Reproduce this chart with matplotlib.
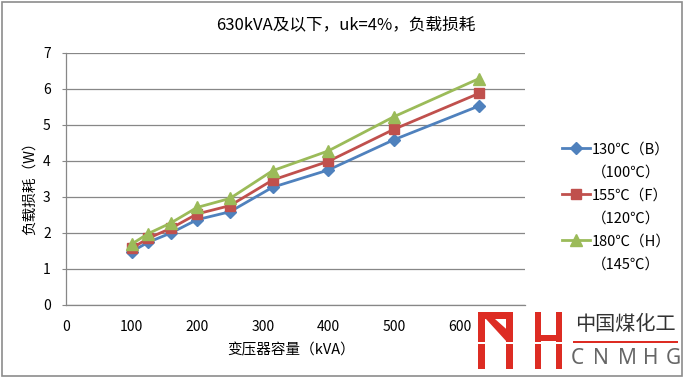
import matplotlib
matplotlib.use("Agg")
import matplotlib.pyplot as plt
from matplotlib.patches import Rectangle, Polygon
from matplotlib.lines import Line2D

plt.rcParams['font.family'] = ['Noto Sans CJK SC', 'DejaVu Sans']

# 数据
capacity = [100, 125, 160, 200, 250, 315, 400, 500, 630]
loss_b = [1.48, 1.74, 2.00, 2.37, 2.59, 3.27, 3.75, 4.59, 5.53]
loss_f = [1.57, 1.85, 2.13, 2.53, 2.76, 3.47, 3.99, 4.88, 5.88]
loss_h = [1.69, 1.98, 2.28, 2.71, 2.96, 3.73, 4.28, 5.23, 6.29]
labels = ['130℃（B）', '155℃（F）', '180℃（H）']
labels2 = ['（100℃）', '（120℃）', '（145℃）']
title = '630kVA及以下，uk=4%，负载损耗'
xlabel = '变压器容量（kVA）'
ylabel = '负载损耗（W）'

W, H = 683, 377
fig = plt.figure(figsize=(W / 100, H / 100), dpi=100)
ax = fig.add_axes([66 / W, 1 - 305 / H, (525 - 66) / W, (305 - 53) / H])

grid_c = '#878787'
series = [
    (loss_b, '#4F81BD', 'D', 6),
    (loss_f, '#C0504D', 's', 7),
    (loss_h, '#9BBB59', '^', 8),
]
handles = []
for (vals, c, m, ms) in series:
    ln, = ax.plot(capacity, vals, color=c, lw=2, marker=m, ms=ms,
                  mec=c, mfc=c, zorder=3)
    handles.append(ln)

ax.set_xlim(0, 700)
ax.set_ylim(0, 7)
ax.set_xticks(range(0, 700, 100))
ax.set_yticks(range(0, 8))
ax.yaxis.grid(True, color=grid_c, lw=0.9)
ax.set_axisbelow(True)
for s in ['top', 'right']:
    ax.spines[s].set_visible(False)
for s in ['left', 'bottom']:
    ax.spines[s].set_color(grid_c)
    ax.spines[s].set_linewidth(0.9)
ax.tick_params(axis='x', length=0, pad=11, labelsize=10)
ax.tick_params(axis='y', length=3, color=grid_c, pad=8, labelsize=10)

fig.text(346 / W, 1 - 25 / H, title, ha='center', va='center', fontsize=12)
fig.text(291 / W, 1 - 350 / H, xlabel, ha='center', va='center', fontsize=10.5)
fig.text(30 / W, 1 - 185 / H, ylabel, ha='center', va='center',
         rotation=90, fontsize=10.5)

# 图例（两行标签）
blank = Line2D([], [], color='none')
leg_h, leg_l = [], []
for h, l1, l2 in zip(handles, labels, labels2):
    leg_h += [h, blank]
    leg_l += [l1, l2]
fig.legend(leg_h, leg_l, loc='center left', bbox_to_anchor=(555 / W, 1 - 207 / H),
           frameon=False, fontsize=10.5, handlelength=1.9, handletextpad=0.15,
           labelspacing=0.62, borderpad=0)

# 外框
fig.add_artist(Rectangle((1.5 / W, 1.5 / H), (W - 3) / W, (H - 3) / H,
                         transform=fig.transFigure, fill=False,
                         edgecolor='#8c8c8c', lw=1.2))

# 标志
def px(x, y):
    return (x / W, 1 - y / H)

red = '#DD2C23'
def poly(pts, color=red):
    fig.add_artist(Polygon([px(x, y) for x, y in pts], closed=True,
                           transform=fig.transFigure, facecolor=color,
                           edgecolor='none', zorder=5))

def rect(x0, y0, x1, y1, color=red):
    poly([(x0, y0), (x1, y0), (x1, y1), (x0, y1)], color)

rect(472, 309, 681, 375, color='white')
rect(478, 312, 485, 369)
rect(478, 312, 513, 319)
poly([(486, 319), (495, 319), (513, 335), (507, 342)])
rect(506, 312, 513, 369)
rect(535, 312, 541, 369)
rect(556, 312, 562, 369)
rect(535, 335, 562, 341)
rect(476, 342, 564, 343.5, color='white')
fig.text(625 / W, 1 - 325 / H, '中国煤化工', ha='center', va='center',
         fontsize=14.5, color='#333333', zorder=6)
rect(573, 341, 678, 343)
for ch, cx in zip('CNMHG', [577, 601, 627, 651, 673]):
    fig.text(cx / W, 1 - 358 / H, ch, ha='center', va='center',
             fontsize=15, color='#666666', family='Noto Sans', zorder=6)

fig.savefig('out.png', dpi=100)
